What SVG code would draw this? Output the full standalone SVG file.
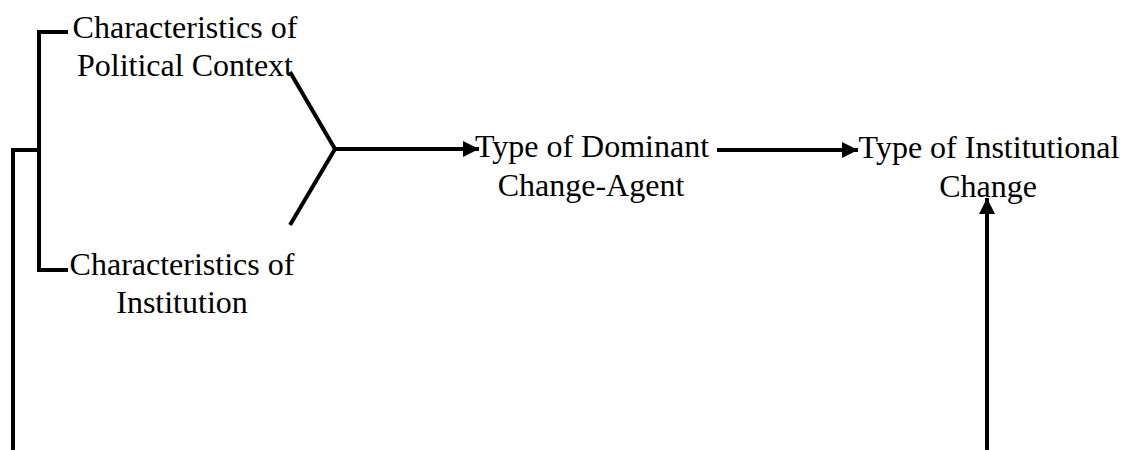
<svg xmlns="http://www.w3.org/2000/svg" width="1121" height="450" viewBox="0 0 1121 450">
<style>
text{font-family:"Liberation Serif","Times New Roman",serif;font-size:32px;fill:#000;text-anchor:middle}
.ln{fill:none;stroke:#000;stroke-width:4;stroke-linejoin:miter}
</style>
<defs>
<marker id="ah" markerWidth="16" markerHeight="16" refX="16" refY="8" orient="auto" markerUnits="userSpaceOnUse">
<path d="M0,0 L16,8 L0,16 Z" fill="#000"/>
</marker>
</defs>
<rect width="1121" height="450" fill="#fff"/>
<g id="n1"><text x="185" y="38">Characteristics of</text><text x="185" y="76">Political Context</text></g>
<g id="n2"><text x="182" y="275">Characteristics of</text><text x="182" y="313">Institution</text></g>
<g id="n3"><text x="592" y="157">Type of Dominant</text><text x="591" y="196">Change-Agent</text></g>
<g id="n4"><text x="989" y="158">Type of Institutional</text><text x="988" y="197">Change</text></g>
<g id="connectors">
<path class="ln" d="M68,32 H39 V270 H68"/>
<path class="ln" d="M39,150 H13 V450"/>
<path class="ln" d="M290,72 L335,149 L290,225"/>
<path class="ln" d="M335,149 H479" marker-end="url(#ah)"/>
<path class="ln" d="M717,150 H858" marker-end="url(#ah)"/>
<path class="ln" d="M987,450 V198" marker-end="url(#ah)"/>
</g>
</svg>
